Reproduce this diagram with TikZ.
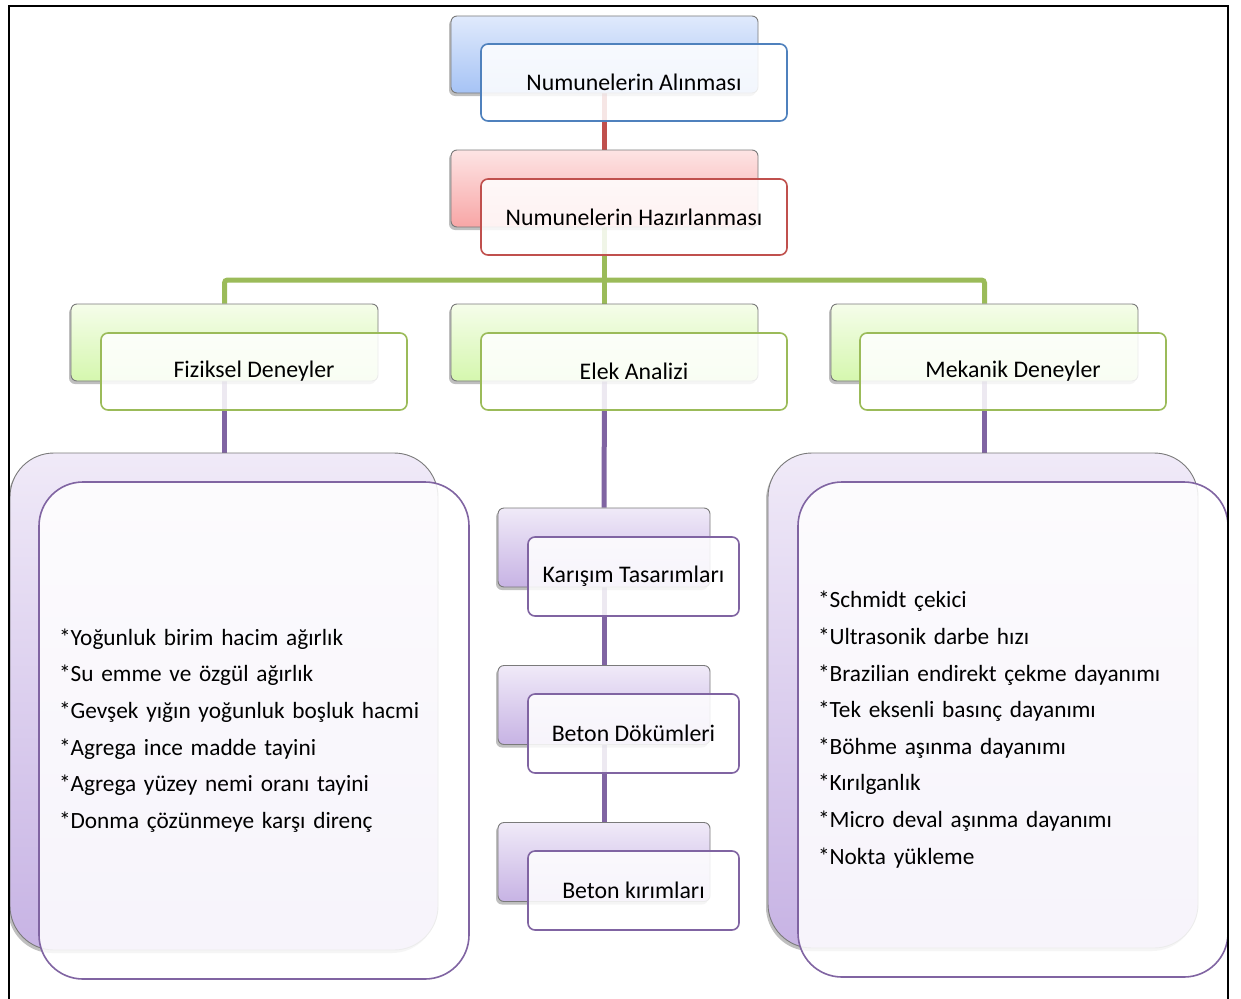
\documentclass[tikz,border=0pt]{standalone}
\usepackage{fontspec}
\setmainfont{Carlito}
\usetikzlibrary{shadows}
\pgfdeclarelayer{background}
\pgfsetlayers{background,main}
\definecolor{bluetop}{HTML}{E0EAFC}
\definecolor{bluebot}{HTML}{A6C3F5}
\definecolor{blueline}{HTML}{4F81BD}
\definecolor{redtop}{HTML}{FDE4E4}
\definecolor{redbot}{HTML}{F8A6A6}
\definecolor{redline}{HTML}{C0504D}
\definecolor{greentop}{HTML}{F5FDEA}
\definecolor{greenbot}{HTML}{D5F7AE}
\definecolor{greenline}{HTML}{9BBB59}
\definecolor{purptop}{HTML}{F0EAF8}
\definecolor{purpbot}{HTML}{C7B3E4}
\definecolor{purpline}{HTML}{8064A2}
\definecolor{backedge}{HTML}{7A7A7A}
\tikzset{
  backbox/.style={draw=backedge, line width=0.9pt, rounded corners=6pt, inner sep=0pt,
    drop shadow={shadow xshift=-2pt, shadow yshift=-3pt, opacity=0.25, fill=black}},
  frontbox/.style={line width=1.6pt, rounded corners=7pt, inner sep=0pt,
    fill=white, fill opacity=0.86, text opacity=1,
    font=\fontsize{23.8}{36.6}\selectfont, text=black},
  listbox/.style={frontbox, draw=purpline, rounded corners=44pt, minimum width=430pt,
    text width=390pt, align=left, font=\fontsize{23.3}{36.6}\selectfont},
  bluebk/.style={backbox, top color=bluetop, bottom color=bluebot},
  redbk/.style={backbox, top color=redtop, bottom color=redbot},
  greenbk/.style={backbox, top color=greentop, bottom color=greenbot},
  purpbk/.style={backbox, top color=purptop, bottom color=purpbot},
  conn/.style={line width=5pt},
}
\begin{document}
\begin{tikzpicture}[x=1pt,y=-1pt]
\useasboundingbox (0,0) rectangle (1241,998);
% back boxes
\node[bluebk, minimum width=307pt, minimum height=77pt] (b1) at (604.5,54.5) {};
\node[redbk, minimum width=307pt, minimum height=77pt] (b2) at (604.5,188.5) {};
\node[greenbk, minimum width=307pt, minimum height=77pt] (b3) at (224.5,342.5) {};
\node[greenbk, minimum width=307pt, minimum height=77pt] (b4) at (604.5,342.5) {};
\node[greenbk, minimum width=307pt, minimum height=77pt] (b5) at (984.5,342.5) {};
\node[purpbk, rounded corners=44pt, minimum width=428pt, minimum height=497pt] (Lb) at (224,701.5) {};
\node[purpbk, rounded corners=44pt, minimum width=430pt, minimum height=495pt] (Rb) at (983,700.5) {};
\node[purpbk, minimum width=212pt, minimum height=79pt] (k1b) at (604,547.5) {};
\node[purpbk, minimum width=212pt, minimum height=79pt] (k2b) at (604,705) {};
\node[purpbk, minimum width=212pt, minimum height=79pt] (k3b) at (604,862) {};
% front boxes
\node[frontbox, draw=blueline, minimum width=306pt, minimum height=77pt] (f1) at (634,82.5) {Numunelerin Alınması};
\node[frontbox, draw=redline, minimum width=306pt, minimum height=76pt] (f2) at (634,217) {Numunelerin Hazırlanması};
\node[frontbox, draw=greenline, minimum width=306pt, minimum height=77pt] (f3) at (254,371.5) {Fiziksel Deneyler};
\node[frontbox, draw=greenline, minimum width=306pt, minimum height=77pt] (f4) at (634,371.5) {Elek Analizi};
\node[frontbox, draw=greenline, minimum width=306pt, minimum height=77pt] (f5) at (1013,371.5) {Mekanik Deneyler};
\node[listbox, minimum height=497pt] (Lf) at (254,730.5)
  {{*}Yoğunluk birim hacim ağırlık\\{*}Su emme ve özgül ağırlık\\{*}Gevşek yığın yoğunluk boşluk hacmi\\{*}Agrega ince madde tayini\\{*}Agrega yüzey nemi oranı tayini\\{*}Donma çözünmeye karşı direnç};
\node[listbox, minimum height=495pt] (Rf) at (1013,729.5)
  {{*}Schmidt çekici\\{*}Ultrasonik darbe hızı\\{*}Brazilian endirekt çekme dayanımı\\{*}Tek eksenli basınç dayanımı\\{*}Böhme aşınma dayanımı\\{*}Kırılganlık\\{*}Micro deval aşınma dayanımı\\{*}Nokta yükleme};
\node[frontbox, draw=purpline, minimum width=211pt, minimum height=79pt] (k1) at (633.5,576.5) {Karışım Tasarımları};
\node[frontbox, draw=purpline, minimum width=211pt, minimum height=79pt] (k2) at (633.5,733.5) {Beton Dökümleri};
\node[frontbox, draw=purpline, minimum width=211pt, minimum height=79pt] (k3) at (633.5,890.5) {Beton kırımları};
\coordinate (gy) at (0,280);
% connectors
\begin{pgfonlayer}{background}
\fill[white] (0,0) rectangle (1241,998);
\draw[conn, redline] (b1.south) -- (b2.north);
\draw[conn, greenline] (b2.south) -- (b4.north);
\draw[conn, greenline, rounded corners=3pt] (b3.north) -- (b3.north |- gy) -- (b5.north |- gy) -- (b5.north);
\draw[conn, purpline] (b3.south) -- (b3.south |- Lb.north);
\draw[conn, purpline] (b4.south) -- (k1b.north);
\draw[conn, purpline] (k1b.south) -- (k2b.north);
\draw[conn, purpline] (k2b.south) -- (k3b.north);
\draw[conn, purpline] (b5.south) -- (b5.south |- Rb.north);
\end{pgfonlayer}
% frame
\draw[line width=2.5pt] (9,1005) -- (9,6) -- (1228,6) -- (1228,1005);
\end{tikzpicture}
\end{document}
